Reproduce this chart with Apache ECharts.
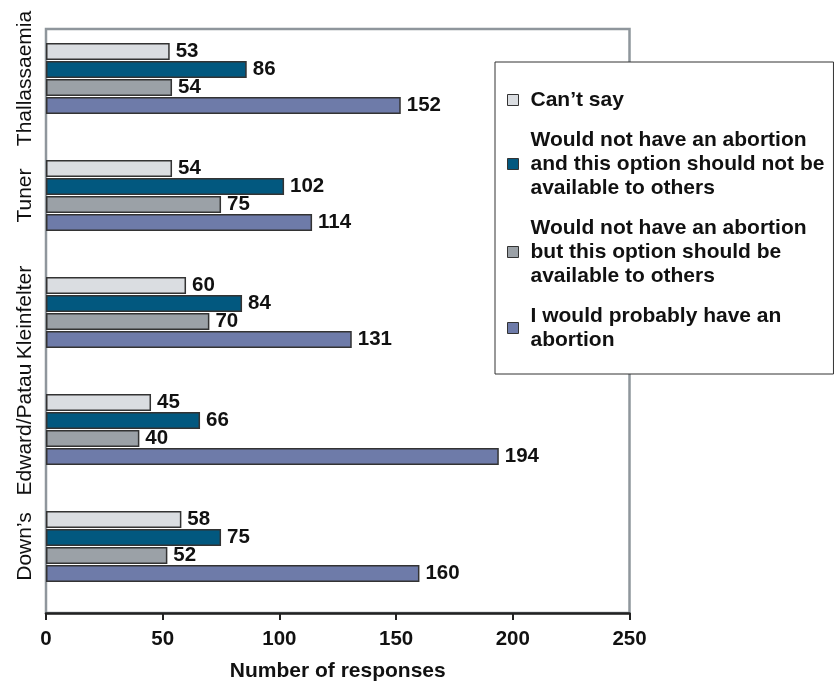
<!DOCTYPE html>
<html>
<head>
<meta charset="utf-8">
<script src="https://cdn.jsdelivr.net/npm/echarts@6/dist/echarts.min.js"></script>
<style>
  html, body { margin: 0; padding: 0; background: #fff; }
  #chart { width: 835px; height: 682px; }
</style>
</head>
<body>
<div id="chart"></div>
<script>
// Conditions, listed top to bottom
const conditions = ['Thallassaemia', 'Tuner', 'Kleinfelter', 'Edward/Patau', "Down\u2019s"];

// Response options (series), in legend order
const seriesNames = [
  'Can\u2019t say',
  'Would not have an abortion and this option should not be available to others',
  'Would not have an abortion but this option should be available to others',
  'I would probably have an abortion'
];
const legendText = [
  'Can\u2019t say',
  'Would not have an abortion\nand this option should not be\navailable to others',
  'Would not have an abortion\nbut this option should be\navailable to others',
  'I would probably have an\nabortion'
];

// Number of responses per condition
const cantSay         = [53, 54, 60, 45, 58];
const notHaveNotAvail = [86, 102, 84, 66, 75];
const notHaveAvail    = [54, 75, 70, 40, 52];
const wouldHave       = [152, 114, 131, 194, 160];

const xTicks = [0, 50, 100, 150, 200, 250];

const colors = ['#dadde1', '#02587f', '#9ba1a7', '#6e7ba9'];
const FONT = '"Liberation Sans", Arial, Helvetica, sans-serif';

const values = [cantSay, notHaveNotAvail, notHaveAvail, wouldHave];

const chart = echarts.init(document.getElementById('chart'), null, { renderer: 'canvas' });

const series = seriesNames.map((name, i) => ({
  name: name,
  type: 'bar',
  xAxisIndex: 1,
  yAxisIndex: 1,
  data: values[i],
  barWidth: 17,
  barGap: '6%',
  itemStyle: { color: colors[i], borderColor: '#333', borderWidth: 1.5 },
  label: {
    show: true,
    position: 'right',
    distance: 6,
    color: '#111',
    fontFamily: FONT,
    fontWeight: 'bold',
    fontSize: 20.5
  },
  emphasis: { disabled: true },
  animation: false
}));

chart.setOption({
  animation: false,
  grid: [
    // frame with the value axis
    { left: 46, top: 29, width: 583.5, height: 584, show: true, outerBoundsMode: 'none',
      borderColor: '#8f969c', borderWidth: 2.5, backgroundColor: 'transparent' },
    // bars
    { left: 46, top: 20, width: 583.5, height: 585, outerBoundsMode: 'none' }
  ],
  xAxis: [
    {
      gridIndex: 0,
      type: 'value',
      min: xTicks[0],
      max: xTicks[xTicks.length - 1],
      interval: xTicks[1] - xTicks[0],
      name: 'Number of responses',
      nameLocation: 'middle',
      nameGap: 48,
      nameTextStyle: { color: '#111', fontFamily: FONT, fontWeight: 'bold', fontSize: 21 },
      axisLine: { show: true, lineStyle: { color: '#222', width: 2.5 } },
      axisTick: { show: true, inside: false, length: 7, lineStyle: { color: '#222', width: 2 } },
      axisLabel: { color: '#111', fontFamily: FONT, fontWeight: 'bold', fontSize: 20.5, margin: 16 },
      splitLine: { show: false }
    },
    {
      gridIndex: 1,
      type: 'value',
      min: xTicks[0],
      max: xTicks[xTicks.length - 1],
      show: false
    }
  ],
  yAxis: [
    { gridIndex: 0, type: 'value', show: false },
    {
      gridIndex: 1,
      type: 'category',
      inverse: true,
      data: conditions,
      axisLine: { show: false },
      axisTick: { show: false },
      axisLabel: {
        interval: 0,
        rotate: 90,
        margin: 10,
        color: '#111',
        fontFamily: FONT,
        fontSize: 21
      }
    }
  ],
  legend: {
    orient: 'vertical',
    left: 495,
    top: 62,
    data: seriesNames,
    formatter: name => legendText[seriesNames.indexOf(name)],
    backgroundColor: '#fff',
    borderColor: '#333',
    borderWidth: 1,
    padding: [26, 9, 22, 12],
    itemGap: 16,
    itemWidth: 11,
    itemHeight: 11,
    icon: 'rect',
    itemStyle: { borderColor: '#333', borderWidth: 1 },
    selectedMode: false,
    textStyle: {
      color: '#111',
      fontFamily: FONT,
      fontWeight: 'bold',
      fontSize: 21,
      lineHeight: 24,
      padding: [0, 0, 0, 7]
    }
  },
  series: series
});
</script>
</body>
</html>
